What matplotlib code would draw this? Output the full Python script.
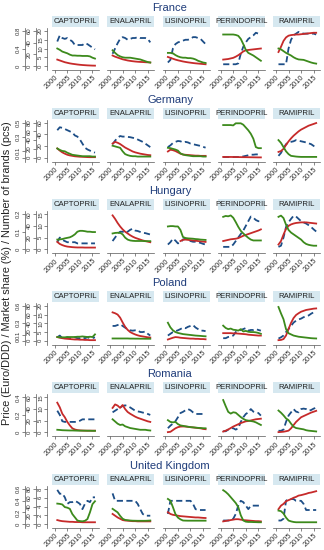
import matplotlib
matplotlib.use('Agg')
import matplotlib.pyplot as plt

plt.rcParams['font.family'] = ['Liberation Sans', 'DejaVu Sans']
nan = float('nan')

countries = ['France', 'Germany', 'Hungary', 'Poland', 'Romania', 'United Kingdom']
drugs = ['CAPTOPRIL', 'ENALAPRIL', 'LISINOPRIL', 'PERINDOPRIL', 'RAMIPRIL']
years = list(range(2001, 2017))
xticks = [2000, 2005, 2010, 2015]

# axis ticks per country: price (Euro/DDD), market share (%), number of brands (pcs)
price_ticks = [[0, 0.4, 0.8], [0, 0.1, 0.3, 0.5], [0, 0.1, 0.2], [0, 0.1, 0.3, 0.6], [0, 0.2, 0.4], [0, 0.2, 0.4, 0.6]]
share_ticks = [[0, 20, 40, 60], [0, 20, 40, 60, 80], [0, 20, 40, 60], [0, 20, 40, 60, 80], [0, 20, 40, 60], [0, 20, 40, 60, 80]]
brand_ticks = [[0, 5, 10, 15, 20], [0, 20, 40, 60], [0, 5, 10, 15], [0, 5, 10, 15, 20], [0, 5, 10, 15], [0, 2, 4, 6, 8]]

# ---------------- France ----------------
france_price = [
    [0.40, 0.37, 0.33, 0.31, 0.29, 0.26, 0.24, 0.24, 0.235, 0.235, 0.23, 0.23, 0.23, 0.22, 0.19, 0.17],
    [0.36, 0.30, 0.25, 0.22, 0.20, 0.19, 0.19, 0.19, 0.18, 0.17, 0.16, 0.15, 0.13, 0.11, 0.09, 0.08],
    [0.30, 0.30, 0.29, 0.25, 0.22, 0.20, 0.19, 0.19, 0.18, 0.18, 0.17, 0.15, 0.12, 0.10, 0.08, 0.07],
    [0.72, 0.72, 0.72, 0.72, 0.72, 0.71, 0.69, 0.62, 0.50, 0.37, 0.30, 0.27, 0.24, 0.20, 0.16, 0.12],
    [0.40, 0.38, 0.34, 0.30, 0.27, 0.24, 0.20, 0.17, 0.15, 0.145, 0.14, 0.12, 0.10, 0.08, 0.065, 0.055],
]
france_share = [
    [11, 9.5, 8, 6.5, 5.5, 4.5, 3.8, 3.2, 2.6, 2.1, 1.7, 1.4, 1.1, 0.9, 0.7, 0.6],
    [18, 16, 14.5, 13, 11.5, 10.5, 9.5, 8.8, 8.2, 7.7, 7.3, 7, 6.8, 6.5, 6.3, 6],
    [15.5, 14, 12.5, 11, 9.8, 8.8, 7.8, 7, 6.3, 5.7, 5.1, 4.6, 4.2, 3.8, 3.4, 3],
    [11, 11.5, 12, 13, 14, 16, 18.5, 21.5, 25, 27, 27.5, 28, 28.5, 29, 29.5, 30],
    [24, 33, 43, 49, 52, 53, 53.5, 54, 54, 54.5, 55, 55.5, 56, 56.5, 57, 57],
]
france_brands = [
    [14, 17.5, 16, 15.5, 16, 15, 14, 12, 12, 12, 12, 13, 12.5, 11.5, 10.5, 9.5],
    [7, 10, 13, 15.5, 16.5, 16, 15, 15.5, 16, 16, 16.5, 16, 16, 16, 15.5, 13.5],
    [2, 3.5, 10, 12.5, 13.5, 14, 14.5, 15, 15, 15.5, 16.5, 16.5, 16, 15.5, 14, 12.5],
    [1, 1, 1, 1, 1, 1, 1.5, 7, 11, 13.5, 15.5, 16.5, 17.5, 19, 18.5, 18.5],
    [1, 1, 1, 1, 10, 15, 17.5, 18.5, 19.5, 19, 18.5, 18.5, 18.5, 18.5, 18.5, 18],
]

# ---------------- Germany ----------------
germany_price = [
    [0.13, 0.11, 0.095, 0.09, 0.07, 0.055, 0.04, 0.035, 0.03, 0.025, 0.02, 0.02, 0.02, 0.02, 0.015, 0.015],
    [0.17, 0.16, 0.15, 0.14, 0.09, 0.05, 0.035, 0.025, 0.02, 0.02, 0.015, 0.015, 0.015, 0.015, 0.015, 0.015],
    [0.14, 0.135, 0.125, 0.115, 0.10, 0.06, 0.045, 0.035, 0.03, 0.025, 0.02, 0.02, 0.02, 0.02, 0.015, 0.015],
    [0.465, 0.465, 0.465, 0.465, 0.46, 0.49, 0.49, 0.49, 0.47, 0.43, 0.39, 0.34, 0.27, 0.15, 0.135, 0.135],
    [0.25, 0.21, 0.15, 0.09, 0.05, 0.025, 0.02, 0.015, 0.012, 0.01, 0.01, 0.01, 0.01, 0.01, 0.01, 0.01],
]
germany_share = [
    [21, 16, 12, 9, 6.5, 5, 4, 3, 2.5, 2, 1.8, 1.5, 1.2, 1, 1, 1],
    [32, 36, 34, 31, 27, 23, 20, 17, 14, 12, 10.5, 9, 8, 7, 6, 5.5],
    [14, 18, 17, 15, 12, 9, 7, 6.5, 6, 5.5, 5, 4.5, 4.5, 4, 4, 4],
    [1.5, 1.5, 1.5, 1.5, 1.4, 1.3, 1.2, 1.1, 1, 1, 0.9, 0.8, 0.7, 0.6, 0.5, 0.5],
    [13, 15, 20, 29, 37, 44, 50, 55, 60, 64, 67, 70, 73, 75, 77, 79],
]
germany_brands = [
    [47, 52, 51, 49, 47, 45, 43, 38, 36, 31, 24, 17, 14, 12, 10, 8.5],
    [23, 29, 34, 37, 36, 36, 35.5, 35, 34, 33, 31, 29, 27, 24, 21, 18],
    [18, 21, 25, 27, 28.5, 28, 26, 27, 26, 24, 23, 22, 21, 20, 18.5, 17],
    [1, 1, 1, 1, 1, 1, 1, 1.5, 2, 3, 4, 5, 5, 5.5, 5.5, 5.5],
    [3, 8, 16, 23, 26, 27, 28, 30, 29, 28, 27, 26, 24.5, 23, 20, 18],
]

# ---------------- Hungary ----------------
hungary_price = [
    [0.055, 0.056, 0.058, 0.062, 0.065, 0.068, 0.075, 0.085, 0.10, 0.105, 0.105, 0.103, 0.10, 0.10, 0.098, 0.098],
    [0.09, 0.093, 0.094, 0.094, 0.085, 0.066, 0.055, 0.05, 0.048, 0.047, 0.047, 0.047, 0.047, 0.046, 0.046, 0.046],
    [0.13, 0.132, 0.132, 0.13, 0.13, 0.11, 0.07, 0.064, 0.062, 0.061, 0.06, 0.058, 0.057, 0.055, 0.054, 0.053],
    [0.185, 0.19, 0.188, 0.193, 0.18, 0.155, 0.128, 0.105, 0.09, 0.077, 0.065, 0.055, 0.05, 0.05, 0.05, 0.05],
    [0.185, 0.192, 0.178, 0.14, 0.11, 0.095, 0.085, 0.075, 0.065, 0.055, 0.04, 0.03, 0.025, 0.022, 0.02, 0.02],
]
hungary_share = [
    [12.5, 9, 7, 5.5, 4.5, 4, 3.5, 3.2, 3, 3, 3, 2.8, 2.8, 2.8, 2.8, 2.8],
    [58, 52, 45, 39, 34, 30, 27, 24, 21.5, 19.5, 18, 16.5, 15, 14, 13, 12],
    [nan, nan, nan, nan, nan, 14, 16, 16.5, 16, 15.5, 15, 14.5, 14, 13.5, 13, 12.5],
    [14, 15, 16, 17, 17.5, 18, 19, 21, 23, 24.5, 26, 27.5, 29, 30.5, 32, 34],
    [8, 14, 25, 35, 40, 42.5, 44, 45, 45.5, 46, 46, 46, 45.5, 45, 44.5, 44],
]
hungary_brands = [
    [3, 5, 4, 3.5, 3, 3, 3, 3, 2.5, 2.5, 2.5, 2.5, 2.5, 2.5, 2.5, 2.5],
    [3.5, 5, 6.5, 7.5, 7.5, 7, 7.5, 8.3, 8.8, 8, 7.8, 7.4, 7, 6.9, 6.6, 6.3],
    [2, 3, 4.5, 3.7, 2.5, 2.8, 4.2, 4.5, 3.8, 3.5, 3.2, 3.2, 3, 2.7, 2.3, 2],
    [1, 1, 1, 1, 2, 3.5, 5, 6.5, 8, 10, 12, 14, 13.5, 12.5, 12, 12],
    [1, 1.5, 5, 9.5, 11.5, 13, 14.3, 14, 13, 12, 11.5, 11, 10.3, 9.5, 8.5, 7.6],
]

# ---------------- Poland ----------------
poland_price = [
    [0.065, 0.06, 0.06, 0.06, 0.065, 0.065, 0.065, 0.065, 0.07, 0.07, 0.075, 0.07, 0.065, 0.07, 0.065, 0.11],
    [0.04, 0.04, 0.04, 0.04, 0.04, 0.04, 0.04, 0.038, 0.038, 0.037, 0.037, 0.036, 0.036, 0.035, 0.035, 0.035],
    [0.31, 0.23, 0.18, 0.15, 0.135, 0.125, 0.115, 0.11, 0.105, 0.10, 0.095, 0.09, 0.087, 0.084, 0.08, 0.077],
    [0.26, 0.22, 0.20, 0.21, 0.19, 0.185, 0.175, 0.20, 0.16, 0.17, 0.155, 0.15, 0.15, 0.145, 0.135, 0.12],
    [0.58, 0.47, 0.37, 0.20, 0.13, 0.11, 0.09, 0.08, 0.07, 0.065, 0.06, 0.055, 0.05, 0.045, 0.042, 0.04],
]
poland_share = [
    [8.5, 7, 6, 5, 4.5, 4, 3.5, 3, 3, 2.5, 2.5, 2, 2, 1.5, 1.5, 1.5],
    [65, 63, 60, 53, 42, 32, 25, 20, 17, 14.5, 12.5, 11, 10, 9, 8, 7.5],
    [3, 5, 7, 8.5, 8, 7, 6.5, 6, 5.5, 5, 5, 4.5, 4.5, 4, 4, 3.5],
    [17.5, 17.5, 17.5, 17.5, 17, 17, 16.5, 16, 15.5, 15, 14, 13.5, 13, 12.5, 12, 12],
    [1.5, 2, 4, 12, 27, 41, 52, 59, 63, 66.5, 68.5, 70.5, 71.5, 72.5, 73.5, 74],
]
poland_brands = [
    [2, 3, 1.5, 1.5, 2, 1.5, 1.5, 2, 1.5, 1.5, 2, 1.5, 2, 1.5, 1.5, 2],
    [8.5, 8.5, 9, 9.5, 8.5, 7.5, 6.5, 6, 5.8, 6, 6, 5, 5, 5.3, 4, 3],
    [3, 4, 5, 5.5, 6, 6.7, 7.5, 7.2, 8, 8.5, 9, 7.6, 6.7, 5.8, 5.8, 5.5],
    [1.5, 1.5, 2.2, 2.5, 3, 5, 5.8, 6.2, 6.7, 7.3, 5.8, 6.2, 6.2, 6.7, 6.2, 5.8],
    [1.3, 2, 3, 5, 6.7, 8.5, 10.4, 11.5, 12.2, 12.7, 13.5, 14, 14.5, 15.5, 16.3, 17],
]

# ---------------- Romania ----------------
romania_price = [
    [0.03, 0.028, 0.025, 0.024, 0.023, 0.022, 0.022, 0.021, 0.02, 0.02, 0.02, 0.02, 0.019, 0.019, 0.018, 0.018],
    [0.15, 0.125, 0.10, 0.085, 0.09, 0.07, 0.06, 0.05, 0.045, 0.04, 0.035, 0.03, 0.03, 0.03, 0.025, 0.022],
    [0.14, 0.12, 0.115, 0.12, 0.095, 0.08, 0.075, 0.07, 0.065, 0.06, 0.058, 0.055, 0.052, 0.05, 0.048, 0.047],
    [0.37, 0.30, 0.235, 0.215, 0.23, 0.225, 0.20, 0.175, 0.155, 0.14, 0.135, 0.13, 0.125, 0.115, 0.10, 0.085],
    [0.25, 0.225, 0.195, 0.16, 0.14, 0.10, 0.065, 0.05, 0.045, 0.04, 0.035, 0.025, 0.02, 0.017, 0.014, 0.011],
]
romania_share = [
    [51, 43, 32, 26, 18, 12, 7, 5, 4, 3.5, 3.2, 3, 3, 3, 3, 3],
    [42, 48, 46, 42, 47, 40, 35, 32, 29.5, 27, 25, 23.5, 22, 20.5, 19, 18],
    [0.5, 1, 4, 7, 9, 10, 10.2, 10, 9.5, 9, 8.5, 8, 7.5, 7, 6, 5.5],
    [1.5, 3, 5, 7.5, 10, 12, 14, 16, 17.5, 19, 19.5, 20.5, 21.5, 22.5, 23, 23.5],
    [0.5, 0.8, 1.2, 2, 3, 7, 12.5, 18, 22, 26, 28, 30, 32, 34, 35.5, 37],
]
romania_brands = [
    [9.3, 7.5, 4.8, 4.5, 4.5, 4.5, 4.5, 4.5, 4.6, 5, 5.6, 5.6, 5.6, 5.6, 5.6, 5.6],
    [8.6, 9.3, 10, 10.7, 11.3, 11.6, 11.3, 10.7, 10, 9.3, 9, 8.8, 8.5, 8.3, 7.9, 7.5],
    [1.8, 2.9, 3.8, 4.8, 6.5, 8.3, 8.8, 9.5, 10, 9.5, 8.6, 7.9, 7.9, 7.9, 7.9, 7.9],
    [0.5, 0.5, 1.2, 1.8, 1.8, 1.2, 1.8, 4.5, 6.5, 7.9, 8.6, 10, 8.9, 8.6, 8.3, 7.2],
    [0.7, 0.7, 1.2, 4.5, 7.2, 8.6, 10, 8.9, 8.6, 10, 10.2, 10, 9.3, 9.6, 10.2, 10.6],
]

# ---------------- United Kingdom ----------------
uk_price = [
    [0.35, 0.345, 0.335, 0.29, 0.28, 0.26, 0.17, 0.115, 0.06, 0.05, 0.046, 0.055, 0.085, 0.20, 0.34, 0.39],
    [0.26, 0.23, 0.20, 0.14, 0.09, 0.07, 0.065, 0.06, 0.057, 0.056, 0.055, 0.055, 0.055, 0.055, 0.057, 0.06],
    [0.43, 0.40, 0.29, 0.17, 0.11, 0.08, 0.06, 0.058, 0.057, 0.057, 0.057, 0.057, 0.057, 0.057, 0.057, 0.057],
    [0.58, 0.55, 0.51, 0.46, 0.41, 0.36, 0.29, 0.15, 0.06, 0.04, 0.035, 0.035, 0.033, 0.032, 0.03, 0.03],
    [0.23, 0.22, 0.18, 0.11, 0.06, 0.045, 0.035, 0.03, 0.03, 0.03, 0.03, 0.03, 0.03, 0.03, 0.03, 0.03],
]
uk_share = [
    [9, 7.5, 6.5, 6, 5.5, 5, 5, 4.5, 4.5, 4.5, 4, 4, 4, 4, 4, 4],
    [23, 19, 15, 12, 9, 8, 7.5, 7, 6.5, 6.5, 6, 6, 6, 6, 6, 6],
    [27, 23, 21, 20, 19, 18, 17.5, 17, 16.5, 16, 15.5, 15, 15, 14.5, 14, 13.7],
    [6, 7, 8, 9, 10, 11, 11, 10, 9, 8.5, 8, 7.5, 7, 6.5, 6.5, 6],
    [34, 42, 46, 52, 54.5, 57, 60, 62, 65, 66, 67.5, 69, 71, 72, 73.5, 75],
]
uk_brands = [
    [7.8, 6.9, 7, 6.1, 4.6, 5, 5, 5.3, 5, 4.6, 3.4, 4.6, 5.3, 5, 6.1, 6.1],
    [7, 5.3, 5.3, 5.3, 5.3, 5.3, 5.3, 5.3, 5.3, 5.3, 4.6, 3.4, 2.3, 1.9, 1.9, 1.9],
    [2.3, 5.3, 5.3, 5.3, 5.3, 5.3, 5.3, 5.3, 5.3, 5.3, 4.6, 3.4, 3.2, 3.2, 3.2, 3.2],
    [0.8, 0.8, 0.8, 0.8, 1.2, 2.3, 4.2, 5.3, 5, 4.2, 3.4, 4.2, 4.2, 4.2, 4.2, 4.2],
    [0.8, 0.8, 1.2, 5.3, 5.7, 5.7, 5.7, 5.3, 5.3, 5.3, 4.6, 3.2, 3.2, 3.2, 3.2, 3.2],
]

prices = [france_price, germany_price, hungary_price, poland_price, romania_price, uk_price]
shares = [france_share, germany_share, hungary_share, poland_share, romania_share, uk_share]
brands = [france_brands, germany_brands, hungary_brands, poland_brands, romania_brands, uk_brands]

# ---------------- drawing ----------------
W, H = 324, 550
fig = plt.figure(figsize=(W / 100, H / 100), dpi=100)
fig.patch.set_facecolor('white')

RED = '#c62a2a'
GREEN = '#3c8a1c'
BLUE = '#1d4e87'
TITLE = '#1f3c7a'
STRIP = '#d6e8f0'
AXC = '#555555'
TXT = '#333333'


def rect(x, y, w, h):
    return [x / W, 1 - (y + h) / H, w / W, h / H]


def fmt(v):
    return ('%g' % v)


def lims(ticks):
    m = max(ticks)
    return (-0.114 * m, 1.086 * m)


ROW = 91.6
for r, country in enumerate(countries):
    o = ROW * r
    fig.text(170 / W, 1 - (8 + o) / H, country, ha='center', va='center',
             fontsize=8, color=TITLE)
    for c, drug in enumerate(drugs):
        x0 = 52 + 55.3 * c
        # header strip
        sax = fig.add_axes(rect(x0, 16 + o, 47, 11))
        sax.set_facecolor(STRIP)
        sax.set_xticks([])
        sax.set_yticks([])
        for s in sax.spines.values():
            s.set_visible(False)
        sax.text(0.5, 0.5, drug, ha='center', va='center', fontsize=5.6,
                 color='#222222', transform=sax.transAxes)

        ax = fig.add_axes(rect(x0, 28 + o, 47, 42))
        ax_s = ax.twinx()
        ax_p = ax.twinx()

        ax.plot(years, brands[r][c], color=BLUE, lw=1.3, dashes=(3.4, 1.9),
                solid_capstyle='butt')
        ax_s.plot(years, shares[r][c], color=RED, lw=1.3)
        ax_p.plot(years, prices[r][c], color=GREEN, lw=1.3)

        ax.set_ylim(*lims(brand_ticks[r]))
        ax_s.set_ylim(*lims(share_ticks[r]))
        ax_p.set_ylim(*lims(price_ticks[r]))
        ax.set_xlim(1998.9, 2017.6)

        ax.set_xticks(xticks)
        ax.set_xticklabels([str(t) for t in xticks], rotation=45, ha='right',
                           va='top', rotation_mode='anchor', fontsize=5.3, color=TXT)
        ax.tick_params(axis='x', length=2, width=0.5, color=AXC, pad=1)
        for a in (ax, ax_s, ax_p):
            for s in a.spines.values():
                s.set_visible(False)
        ax.spines['bottom'].set_visible(True)
        ax.spines['bottom'].set_color(AXC)
        ax.spines['bottom'].set_linewidth(0.5)

        if c == 0:
            for a, tk, off in ((ax, brand_ticks[r], 3.6), (ax_s, share_ticks[r], 11.5),
                               (ax_p, price_ticks[r], 19.5)):
                a.yaxis.set_ticks_position('left')
                a.spines['left'].set_visible(True)
                a.spines['left'].set_position(('outward', off))
                a.spines['left'].set_color(AXC)
                a.spines['left'].set_linewidth(0.5)
                a.set_yticks(tk)
                a.set_yticklabels([fmt(t) for t in tk], rotation=90, va='center',
                                  fontsize=4.3, color=TXT)
                a.tick_params(axis='y', length=2, width=0.5, color=AXC, pad=0.8)
        else:
            for a in (ax, ax_s, ax_p):
                a.set_yticks([])
                a.tick_params(axis='y', left=False, right=False)

fig.text(7 / W, 1 - 273 / H,
         'Price (Euro/DDD) / Market share (%) / Number of brands (pcs)',
         rotation=90, ha='center', va='center', fontsize=7.9, color='#222222')

fig.savefig('out.png', dpi=100, facecolor='white')
